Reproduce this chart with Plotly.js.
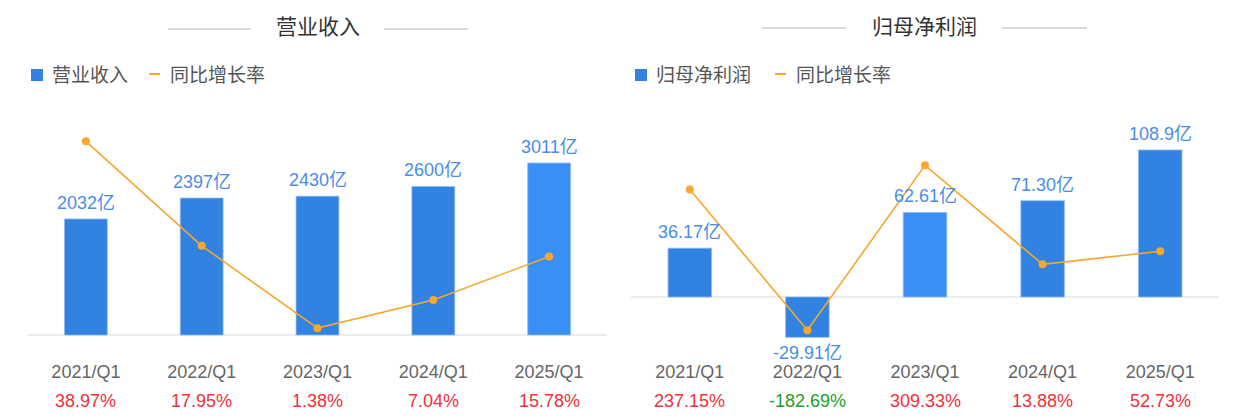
<!DOCTYPE html>
<html>
<head>
<meta charset="utf-8">
<script src="https://cdn.plot.ly/plotly-3.0.1.min.js"></script>
<style>
  html, body { margin: 0; padding: 0; background: #fff; }
  #chart { width: 1235px; height: 420px; }
</style>
</head>
<body>
<div id="chart"></div>
<script>
// ---------- data ----------
var categories = ["2021/Q1", "2022/Q1", "2023/Q1", "2024/Q1", "2025/Q1"];

var revenueTitle = "营业收入";
var revenueValues = [2032, 2397, 2430, 2600, 3011];          // 亿
var revenueGrowth = [38.97, 17.95, 1.38, 7.04, 15.78];       // %
var revenueGrowthLabels = ["38.97%", "17.95%", "1.38%", "7.04%", "15.78%"];

var profitTitle = "归母净利润";
var profitValues = [36.17, -29.91, 62.61, 71.30, 108.9];     // 亿
var profitGrowth = [237.15, -182.69, 309.33, 13.88, 52.73];  // %
var profitGrowthLabels = ["237.15%", "-182.69%", "309.33%", "13.88%", "52.73%"];

var growthName = "同比增长率";
var unit = "亿";

// ---------- styles ----------
var FONT = "'Helvetica Neue', 'Liberation Sans', Arial, 'Noto Sans CJK SC', sans-serif";
var BAR = "#3282e2", BAR_HI = "#3a8ff7", BAR_LINE = "#8dbbf3";
var ORANGE = "#f6a72c", LABEL_BLUE = "#4a8de6";
var RED = "#f0313a", GREEN = "#22a02a";
var H = 420, W = 1235;
function py(pix) { return (H - pix) / H; }
function px(pix) { return pix / W; }

function barColors(vals, hiIndex) {
  return vals.map(function (v, i) { return i === hiIndex ? BAR_HI : BAR; });
}

var traces = [
  {
    type: "bar", x: categories, y: revenueValues, name: revenueTitle,
    xaxis: "x", yaxis: "y",
    marker: { color: barColors(revenueValues, 4), line: { color: BAR_LINE, width: 0.8 } },
    width: 0.37, hoverinfo: "none"
  },
  {
    type: "scatter", mode: "lines+markers", x: categories, y: revenueGrowth, name: growthName,
    xaxis: "x", yaxis: "y2",
    line: { color: ORANGE, width: 1.6 }, marker: { color: ORANGE, size: 8 }, hoverinfo: "none",
    cliponaxis: false
  },
  {
    type: "bar", x: categories, y: profitValues, name: profitTitle,
    xaxis: "x2", yaxis: "y3",
    marker: { color: barColors(profitValues, 2), line: { color: BAR_LINE, width: 0.8 } },
    width: 0.37, hoverinfo: "none"
  },
  {
    type: "scatter", mode: "lines+markers", x: categories, y: profitGrowth, name: growthName,
    xaxis: "x2", yaxis: "y4",
    line: { color: ORANGE, width: 1.6 }, marker: { color: ORANGE, size: 8 }, hoverinfo: "none",
    cliponaxis: false
  }
];

var yDomain = [py(345), py(110)];
var tickFont = { family: FONT, size: 18, color: "#666" };

var annotations = [];
var shapes = [];

function addValueLabels(xref, yref, vals) {
  vals.forEach(function (v, i) {
    annotations.push({
      xref: xref, yref: yref, x: categories[i], y: v,
      text: v.toPrecision(4) + unit, showarrow: false,
      yanchor: v >= 0 ? "bottom" : "top", yshift: v >= 0 ? 4 : -4,
      font: { family: FONT, size: 18, color: LABEL_BLUE }
    });
  });
}
function addGrowthLabels(xref, growth, labels) {
  growth.forEach(function (g, i) {
    annotations.push({
      xref: xref, yref: "paper", x: categories[i], y: py(401),
      text: labels[i], showarrow: false, yanchor: "middle",
      font: { family: FONT, size: 18, color: g >= 0 ? RED : GREEN }
    });
  });
}
function addHeader(title, cx, ty, l1, l2) {
  annotations.push({
    xref: "paper", yref: "paper", x: px(cx), y: py(ty), text: title, showarrow: false,
    xanchor: "center", yanchor: "middle", font: { family: FONT, size: 21, color: "#333" }
  });
  [l1, l2].forEach(function (seg) {
    shapes.push({ type: "line", xref: "paper", yref: "paper",
      x0: px(seg[0]), x1: px(seg[1]), y0: py(ty + 2), y1: py(ty + 2),
      line: { color: "#d9d9d9", width: 2 } });
  });
}
function addLegend(x0, barName, lineX) {
  shapes.push({ type: "rect", xref: "paper", yref: "paper",
    x0: px(x0), x1: px(x0 + 12), y0: py(81), y1: py(69),
    fillcolor: BAR, line: { width: 0 } });
  annotations.push({ xref: "paper", yref: "paper", x: px(x0 + 19), y: py(75),
    text: barName, showarrow: false, xanchor: "left", yanchor: "middle",
    font: { family: FONT, size: 19, color: "#555" } });
  shapes.push({ type: "line", xref: "paper", yref: "paper",
    x0: px(lineX), x1: px(lineX + 11), y0: py(74), y1: py(74),
    line: { color: ORANGE, width: 2 } });
  annotations.push({ xref: "paper", yref: "paper", x: px(lineX + 19), y: py(75),
    text: growthName, showarrow: false, xanchor: "left", yanchor: "middle",
    font: { family: FONT, size: 19, color: "#555" } });
}

addValueLabels("x", "y", revenueValues);
addValueLabels("x2", "y3", profitValues);
addGrowthLabels("x", revenueGrowth, revenueGrowthLabels);
addGrowthLabels("x2", profitGrowth, profitGrowthLabels);
addHeader(revenueTitle, 318, 27, [168, 251], [384, 468]);
addHeader(profitTitle, 924, 26, [762, 846], [1002, 1087]);
addLegend(31, revenueTitle, 149);
addLegend(635, profitTitle, 775);

var xCommon = {
  type: "category", showgrid: false, zeroline: false, showline: false,
  ticks: "", tickfont: tickFont, ticklabelstandoff: 14, fixedrange: true
};
var yHidden = { showgrid: false, showticklabels: false, showline: false, ticks: "", fixedrange: true };

var layout = {
  width: W, height: H,
  margin: { l: 0, r: 0, t: 0, b: 0 },
  paper_bgcolor: "#fff", plot_bgcolor: "#fff",
  showlegend: false, bargap: 0.63,
  font: { family: FONT },
  xaxis: Object.assign({}, xCommon, { domain: [px(28), px(607)], anchor: "y" }),
  xaxis2: Object.assign({}, xCommon, { domain: [px(631), px(1219)], anchor: "y3" }),
  yaxis: Object.assign({}, yHidden, { domain: yDomain, range: [-175.1, 3939],
    zeroline: true, zerolinecolor: "#ececec", zerolinewidth: 2 }),
  yaxis2: Object.assign({}, yHidden, { domain: yDomain, range: [-2.012, 45.27],
    overlaying: "y", zeroline: false, anchor: "x" }),
  yaxis3: Object.assign({}, yHidden, { domain: yDomain, range: [-35.56, 138.5],
    zeroline: true, zerolinecolor: "#ececec", zerolinewidth: 2, anchor: "x2" }),
  yaxis4: Object.assign({}, yHidden, { domain: yDomain, range: [-226.9, 474.6],
    overlaying: "y3", zeroline: false, anchor: "x2" }),
  annotations: annotations,
  shapes: shapes
};

Plotly.newPlot("chart", traces, layout, { staticPlot: true, displayModeBar: false });
</script>
</body>
</html>
